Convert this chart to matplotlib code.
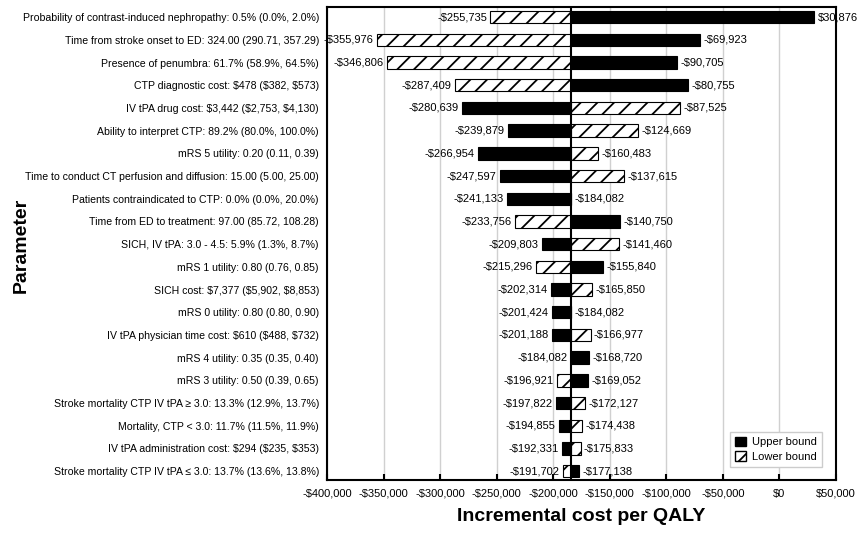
import matplotlib
matplotlib.use("Agg")
import matplotlib.pyplot as plt
from matplotlib.patches import Patch
from matplotlib.ticker import FuncFormatter

plt.rcParams['font.family'] = ['Liberation Sans', 'DejaVu Sans']
plt.rcParams['hatch.linewidth'] = 1.3

# données du tornado
parameters = [
    "Probability of contrast-induced nephropathy: 0.5% (0.0%, 2.0%)",
    "Time from stroke onset to ED: 324.00 (290.71, 357.29)",
    "Presence of penumbra: 61.7% (58.9%, 64.5%)",
    "CTP diagnostic cost: $478 ($382, $573)",
    "IV tPA drug cost: $3,442 ($2,753, $4,130)",
    "Ability to interpret CTP: 89.2% (80.0%, 100.0%)",
    "mRS 5 utility: 0.20 (0.11, 0.39)",
    "Time to conduct CT perfusion and diffusion: 15.00 (5.00, 25.00)",
    "Patients contraindicated to CTP: 0.0% (0.0%, 20.0%)",
    "Time from ED to treatment: 97.00 (85.72, 108.28)",
    "SICH, IV tPA: 3.0 - 4.5: 5.9% (1.3%, 8.7%)",
    "mRS 1 utility: 0.80 (0.76, 0.85)",
    "SICH cost: $7,377 ($5,902, $8,853)",
    "mRS 0 utility: 0.80 (0.80, 0.90)",
    "IV tPA physician time cost: $610 ($488, $732)",
    "mRS 4 utility: 0.35 (0.35, 0.40)",
    "mRS 3 utility: 0.50 (0.39, 0.65)",
    "Stroke mortality CTP IV tPA \u2265 3.0: 13.3% (12.9%, 13.7%)",
    "Mortality, CTP < 3.0: 11.7% (11.5%, 11.9%)",
    "IV tPA administration cost: $294 ($235, $353)",
    "Stroke mortality CTP IV tPA \u2264 3.0: 13.7% (13.6%, 13.8%)",
]
upper = [30876, -69923, -90705, -80755, -280639, -239879, -266954, -247597,
         -241133, -140750, -209803, -155840, -202314, -201424, -201188,
         -168720, -169052, -197822, -194855, -192331, -177138]
lower = [-255735, -355976, -346806, -287409, -87525, -124669, -160483, -137615,
         -184082, -233756, -141460, -215296, -165850, -184082, -166977,
         -184082, -196921, -172127, -174438, -175833, -191702]
base = -184082

def money(v):
    return "-${:,.0f}".format(-v) if v < 0 else "${:,.0f}".format(v)

fig = plt.figure(figsize=(8.59, 5.33), dpi=100)
ax = fig.add_axes([0.381, 0.099, 0.592, 0.888])

y = list(range(len(parameters)))
h = 0.55
ax.barh(y, [u - base for u in upper], left=base, height=h, color="black",
        edgecolor="black", linewidth=0.8, zorder=3)
ax.barh(y, [l - base for l in lower], left=base, height=h, color="white",
        edgecolor="black", hatch="//", linewidth=0.8, zorder=3)

off = 3000
for i in y:
    lo_v, hi_v = min(upper[i], lower[i]), max(upper[i], lower[i])
    ax.text(lo_v - off, i, money(lo_v), ha="right", va="center", fontsize=8, zorder=4)
    ax.text(hi_v + off, i, money(hi_v), ha="left", va="center", fontsize=8, zorder=4)

ax.axvline(base, color="black", linewidth=1.5, zorder=5)

ax.set_xlim(-400000, 50000)
ax.set_ylim(len(parameters) - 0.6, -0.45)
ax.set_xticks(range(-400000, 50001, 50000))
ax.xaxis.set_major_formatter(FuncFormatter(lambda v, p: money(v)))
ax.set_yticks(y)
ax.set_yticklabels(parameters, fontsize=7.6)
ax.tick_params(axis="y", length=0, pad=6)
ax.tick_params(axis="x", direction="in", length=4, width=1.5, labelsize=8, pad=6)
ax.grid(axis="x", color="#d0d0d0", linewidth=1, zorder=0)
ax.set_axisbelow(True)
for s in ax.spines.values():
    s.set_linewidth(1.5)
    s.set_color("black")

ax.set_xlabel("Incremental cost per QALY", fontsize=14, fontweight="bold", labelpad=7)
fig.text(0.025, 0.54, "Parameter", rotation=90, fontsize=14, fontweight="bold",
         ha="center", va="center")

handles = [Patch(facecolor="black", edgecolor="black", label="Upper bound"),
           Patch(facecolor="white", edgecolor="black", hatch="//", label="Lower bound")]
leg = ax.legend(handles=handles, loc="lower right", bbox_to_anchor=(0.9725, 0.028),
                borderaxespad=0, fontsize=8, fancybox=False, framealpha=1,
                handlelength=1.0, handleheight=1.0, handletextpad=0.5,
                borderpad=0.45, labelspacing=0.35)
leg.get_frame().set_edgecolor("#cccccc")
leg.get_frame().set_linewidth(1)

fig.savefig("out.png", dpi=100)
